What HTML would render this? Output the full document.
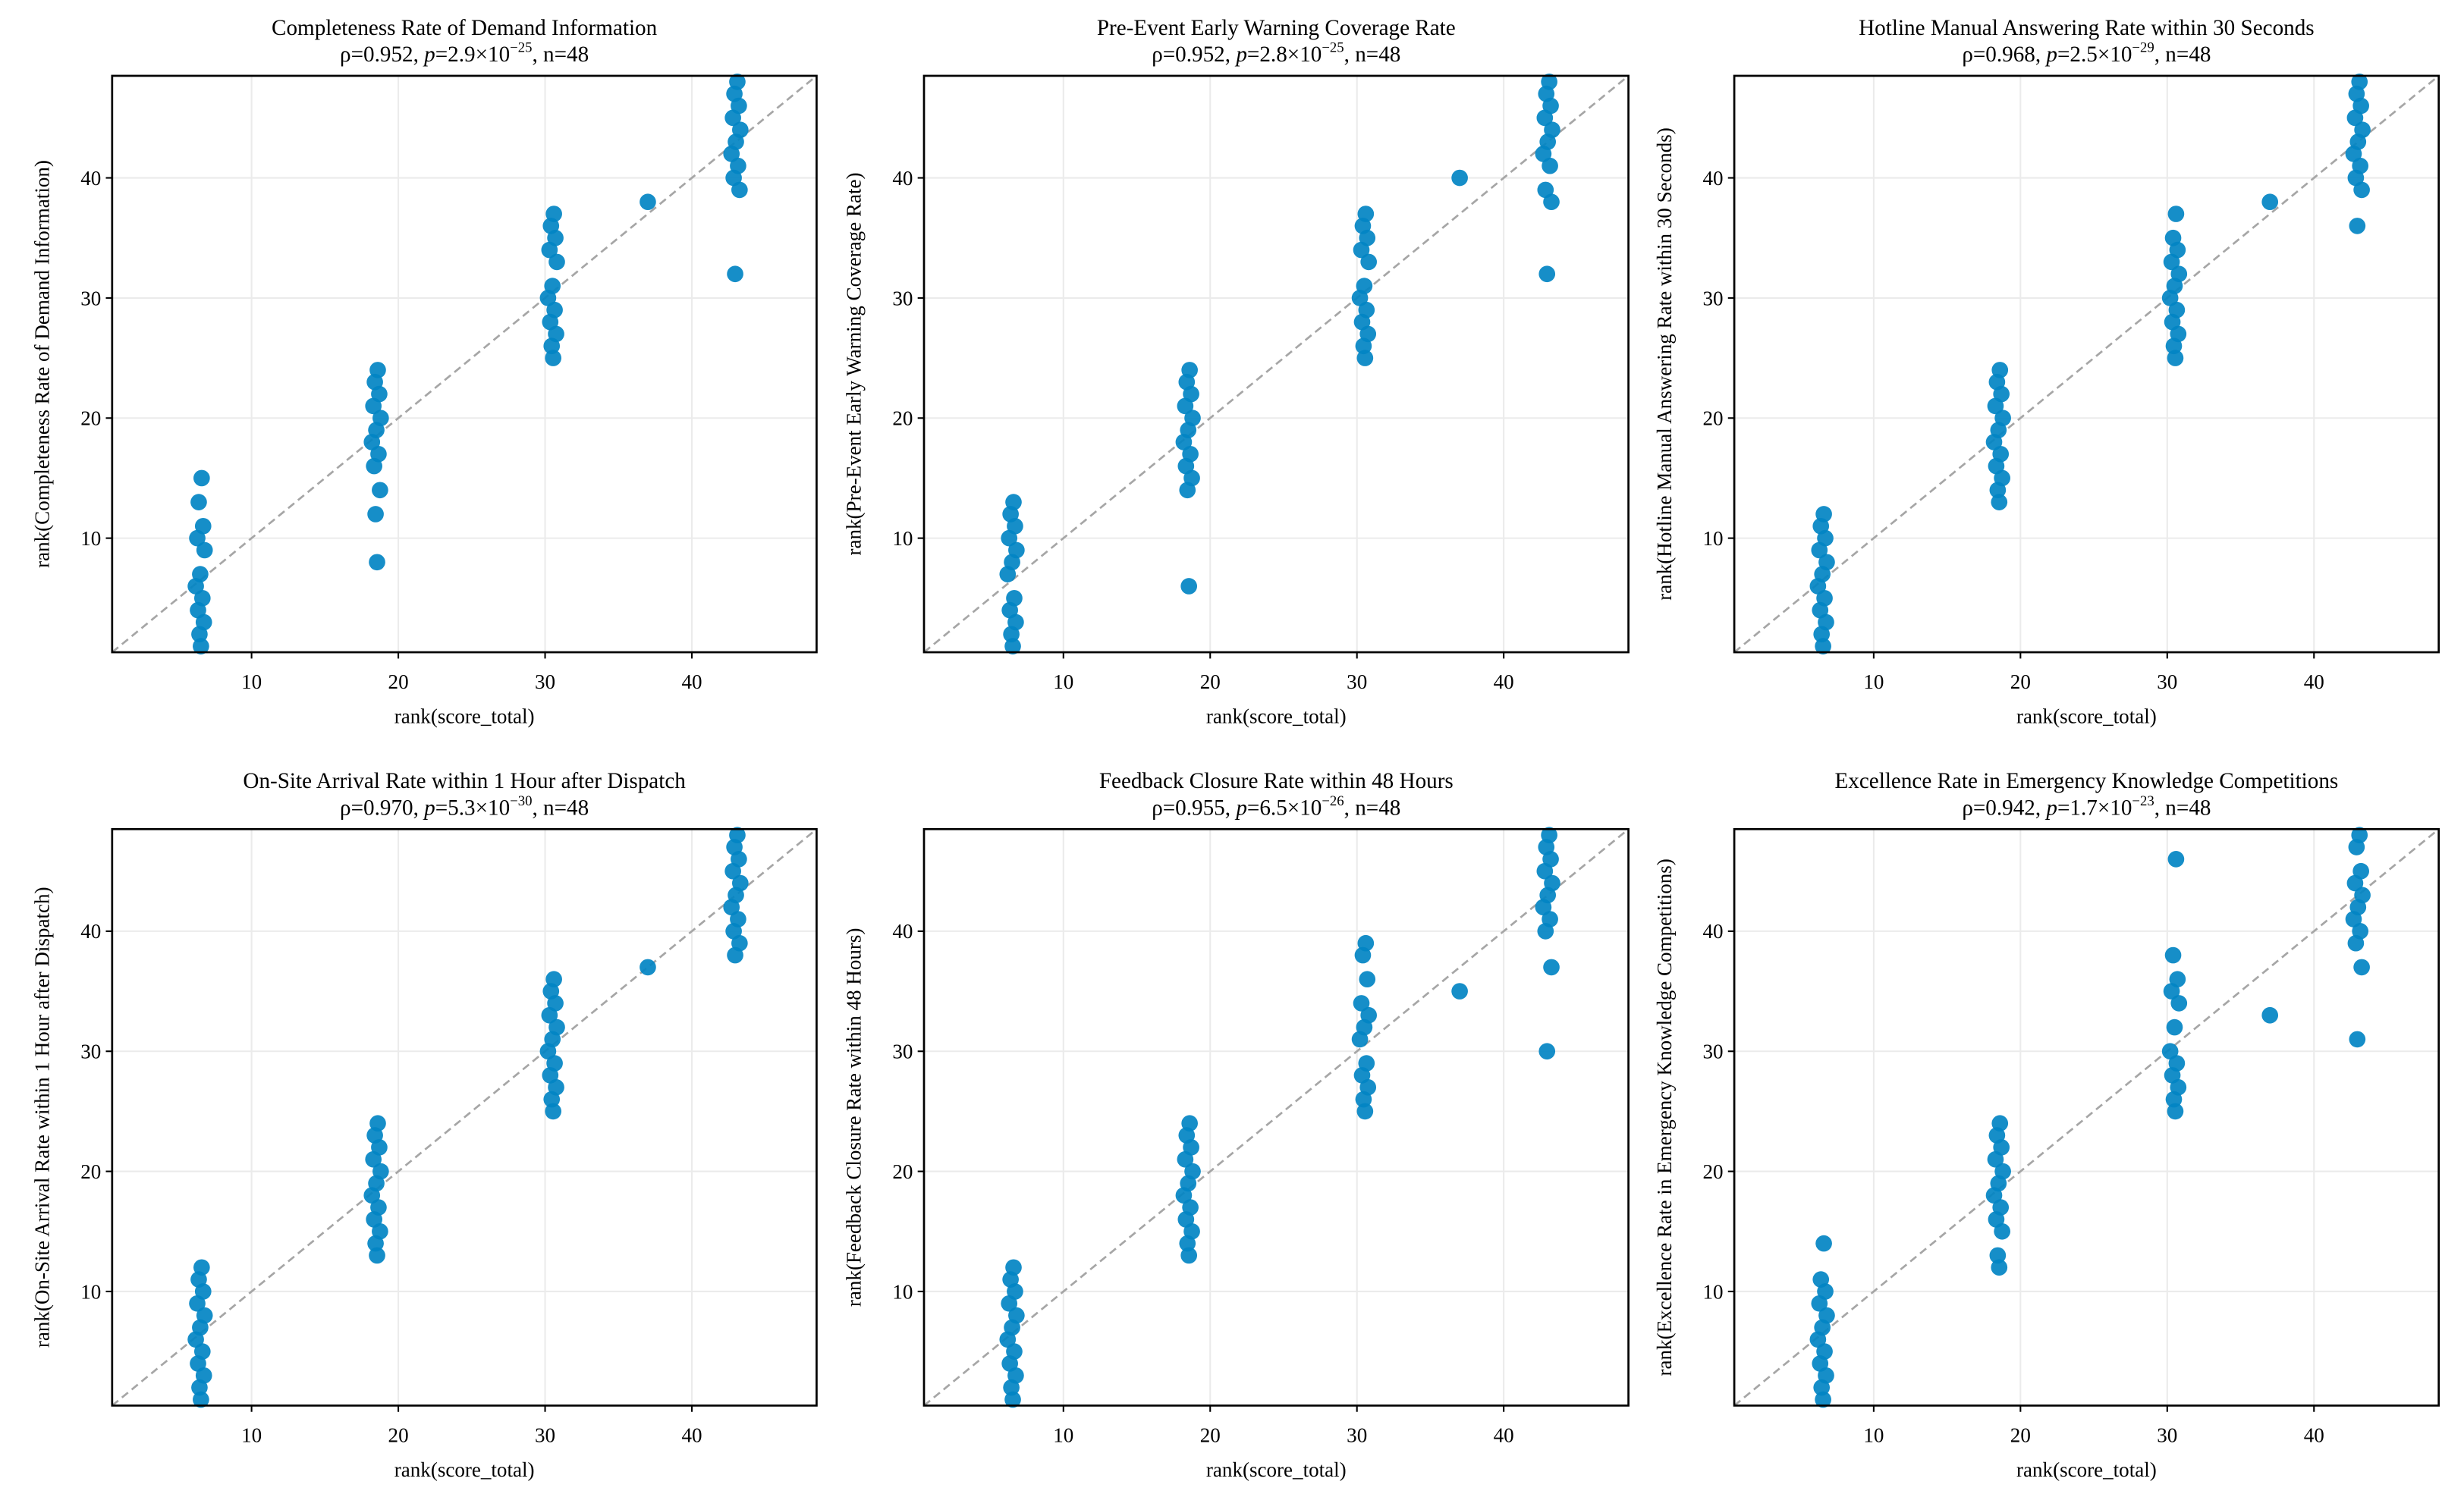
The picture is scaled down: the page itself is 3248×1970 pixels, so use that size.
<!DOCTYPE html>
<html><head><meta charset="utf-8"><style>
html,body{margin:0;padding:0;background:#fff;}
svg{display:block;font-family:"Liberation Serif",serif;}
</style></head><body>
<svg id="fig" width="3248" height="1970" viewBox="0 0 1560 946" preserveAspectRatio="none" xmlns="http://www.w3.org/2000/svg"></svg>
<script>
const titles=["Completeness Rate of Demand Information","Pre-Event Early Warning Coverage Rate","Hotline Manual Answering Rate within 30 Seconds","On-Site Arrival Rate within 1 Hour after Dispatch","Feedback Closure Rate within 48 Hours","Excellence Rate in Emergency Knowledge Competitions"];
const rhos=["0.952","0.952","0.968","0.970","0.955","0.942"];
const pMant=["2.9","2.8","2.5","5.3","6.5","1.7"];
const pExp=["−25","−25","−29","−30","−26","−23"];
const xTicks=[10,20,30,40];
const yTicks=[10,20,30,40];
// x rank centers of each score group and within-group offsets
const groupX=[6.5,18.5,30.5,37,43];
const offsets=[0.1,-0.1,0.2,-0.2,0.3,0,-0.3,0.15,-0.15,0.25,-0.05,0.05];
// y ranks per panel per group [g1(12), g2(12), g3(12), single(1), g4(11)]
const yData1=[[15,13,11,10,9,7,6,5,4,3,2,1],[24,23,22,21,20,19,18,17,16,14,12,8],[37,36,35,34,33,31,30,29,28,27,26,25],[38],[48,47,46,45,44,43,42,41,40,39,32]];
const yData2=[[13,12,11,10,9,8,7,5,4,3,2,1],[24,23,22,21,20,19,18,17,16,15,14,6],[37,36,35,34,33,31,30,29,28,27,26,25],[40],[48,47,46,45,44,43,42,41,39,38,32]];
const yData3=[[12,11,10,9,8,7,6,5,4,3,2,1],[24,23,22,21,20,19,18,17,16,15,14,13],[37,35,34,33,32,31,30,29,28,27,26,25],[38],[48,47,46,45,44,43,42,41,40,39,36]];
const yData4=[[12,11,10,9,8,7,6,5,4,3,2,1],[24,23,22,21,20,19,18,17,16,15,14,13],[36,35,34,33,32,31,30,29,28,27,26,25],[37],[48,47,46,45,44,43,42,41,40,39,38]];
const yData5=[[12,11,10,9,8,7,6,5,4,3,2,1],[24,23,22,21,20,19,18,17,16,15,14,13],[39,38,36,34,33,32,31,29,28,27,26,25],[35],[48,47,46,45,44,43,42,41,40,37,30]];
const yData6=[[14,11,10,9,8,7,6,5,4,3,2,1],[24,23,22,21,20,19,18,17,16,15,13,12],[46,38,36,35,34,32,30,29,28,27,26,25],[33],[48,47,45,44,43,42,41,40,39,37,31]];
const allY=[yData1,yData2,yData3,yData4,yData5,yData6];

const NS="http://www.w3.org/2000/svg";
const svg=document.getElementById('fig');
function mk(tag,attrs,parent){const e=document.createElementNS(NS,tag);for(const k in attrs)e.setAttribute(k,attrs[k]);(parent||svg).appendChild(e);return e;}
const lefts=[71,585,1098], tops=[48,525], W=446, H=365, lo=0.5, hi=48.5;
for(let i=0;i<6;i++){
  const L=lefts[i%3], T=tops[Math.floor(i/3)];
  const sx=v=>L+(v-lo)/(hi-lo)*W, sy=v=>T+H-(v-lo)/(hi-lo)*H;
  const g=mk('g',{});
  
  
  xTicks.forEach(t=>{const l=mk('line',{x1:sx(t),x2:sx(t),y1:T,y2:T+H,stroke:'#ebebeb','stroke-width':1},g);});
  yTicks.forEach(t=>{const l=mk('line',{x1:L,x2:L+W,y1:sy(t),y2:sy(t),stroke:'#ebebeb','stroke-width':1},g);});
  const d=mk('line',{x1:sx(lo),y1:sy(lo),x2:sx(hi),y2:sy(hi),stroke:'#a6a6a6','stroke-width':1.3,'stroke-dasharray':'5,3'},g);
  
  allY[i].forEach((grp,gi)=>{grp.forEach((y,k)=>{
    const x=groupX[gi]+(gi===3?0:offsets[k%offsets.length]);
    const c=mk('circle',{cx:sx(x),cy:sy(y),r:5.2,fill:'#0284c3','fill-opacity':0.92},g);
    
  });});
  const f=mk('rect',{x:L,y:T,width:W,height:H,fill:'none',stroke:'#000','stroke-width':1.3},g);
  
  xTicks.forEach(t=>{mk('line',{x1:sx(t),x2:sx(t),y1:T+H,y2:T+H+4,stroke:'#000','stroke-width':1},g);
    const tx=mk('text',{x:sx(t),y:T+H+23,'text-anchor':'middle','font-size':13},g);tx.textContent=t;
    });
  yTicks.forEach(t=>{mk('line',{x1:L-4,x2:L,y1:sy(t),y2:sy(t),stroke:'#000','stroke-width':1},g);
    const tx=mk('text',{x:L-7,y:sy(t)+4.5,'text-anchor':'end','font-size':13},g);tx.textContent=t;
    });
  const xl=mk('text',{x:L+W/2,y:T+H+45,'text-anchor':'middle','font-size':13},g);xl.textContent='rank(score_total)';
  
  const yl=mk('text',{x:0,y:0,'text-anchor':'middle','font-size':13,transform:`translate(${L-40},${T+H/2}) rotate(-90)`},g);yl.textContent='rank('+titles[i]+')';
  
  const t1=mk('text',{x:L+W/2,y:T-26,'text-anchor':'middle','font-size':14},g);t1.textContent=titles[i];
  
  const t2=mk('text',{x:L+W/2,y:T-9,'text-anchor':'middle','font-size':14},g);
  
  t2.innerHTML=`ρ=${rhos[i]}, <tspan font-style="italic">p</tspan>=${pMant[i]}×10<tspan font-size="9" dy="-6">${pExp[i]}</tspan><tspan dy="6">, n=48</tspan>`;
}
</script>
</body></html>
